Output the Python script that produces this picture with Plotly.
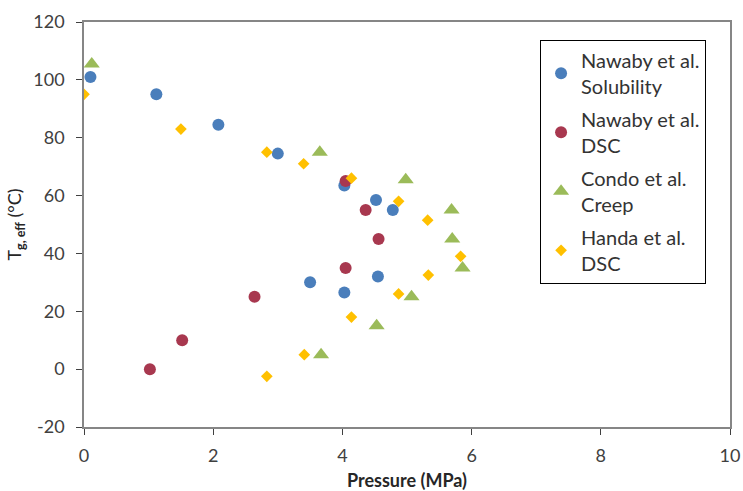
import plotly.graph_objects as go

sol_x = [0.1, 1.12, 2.08, 3.0, 4.03, 4.52, 4.78, 3.5, 4.03, 4.55]
sol_y = [101, 95, 84.5, 74.5, 63.5, 58.5, 55, 30, 26.5, 32]

ndsc_x = [1.02, 1.52, 2.64, 4.05, 4.05, 4.36, 4.56]
ndsc_y = [0, 10, 25, 35, 65, 55, 45]

creep_x = [0.12, 3.65, 4.98, 5.69, 5.7, 5.86, 5.07, 4.53, 3.67]
creep_y = [105.5, 75, 65.5, 55, 45, 35, 25, 15, 5]

handa_x = [0.0, 1.5, 2.83, 3.4, 4.14, 4.87, 5.32, 5.83, 5.33, 4.87, 4.14, 3.41, 2.83]
handa_y = [95, 83, 75, 71, 66, 58, 51.5, 39, 32.5, 26, 18, 5, -2.5]

x_ticks = [0, 2, 4, 6, 8, 10]
y_ticks = [-20, 0, 20, 40, 60, 80, 100, 120]
y_ticktext = ["-20", "0", "20", "40", "60", "80", "100", "120"]

names = ["Nawaby et al.<br>Solubility", "Nawaby et al.<br>DSC",
         "Condo et al.<br>Creep", "Handa et al.<br>DSC"]

FONT = "Lato, Noto Sans, sans-serif"

fig = go.Figure()
fig.add_trace(go.Scatter(x=sol_x, y=sol_y, mode="markers", name=names[0], legendgroup="g1",
                         marker=dict(symbol="circle", size=12, color="#4A7EBB")))
fig.add_trace(go.Scatter(x=ndsc_x, y=ndsc_y, mode="markers", name=names[1], legendgroup="g2",
                         marker=dict(symbol="circle", size=12, color="#A8384F")))
fig.add_trace(go.Scatter(x=creep_x, y=creep_y, mode="markers", name=names[2], legendgroup="g3",
                         marker=dict(symbol="triangle-up", size=14, color="#9BBB59")))
fig.add_trace(go.Scatter(x=handa_x, y=handa_y, mode="markers", name=names[3], legendgroup="g4",
                         marker=dict(symbol="diamond", size=9, color="#FFC000")))

fig.update_layout(
    width=743, height=491,
    margin=dict(l=84, r=13, t=22, b=64, autoexpand=False),
    paper_bgcolor="white", plot_bgcolor="white",
    font=dict(family=FONT, size=17, color="#404040"),
    showlegend=True,
    legend=dict(x=0.706, y=0.956, xanchor="left", yanchor="top",
                bordercolor="black", borderwidth=1, bgcolor="white",
                font=dict(family=FONT, size=20, color="#333333"),
                tracegroupgap=4, itemwidth=30),
    xaxis=dict(range=[0, 10], tickvals=x_ticks, showgrid=False, zeroline=False,
               automargin=False,
               showline=True, linecolor="#868686", linewidth=1.5, mirror=True,
               ticks="outside", ticklen=6, tickcolor="#404040",
               ticklabelstandoff=6,
               tickfont=dict(family=FONT, size=18, color="#404040"),
               title=dict(text="<b>Pressure (MPa)</b>", font=dict(family=FONT, size=18, color="#262626"),
                          standoff=12)),
    yaxis=dict(range=[-20, 120], tickvals=y_ticks, ticktext=y_ticktext,
               showgrid=False, zeroline=False, automargin=False,
               showline=True, linecolor="#868686", linewidth=1.5, mirror=True,
               ticks="outside", ticklen=6, tickcolor="#404040",
               ticklabelstandoff=8,
               tickfont=dict(family=FONT, size=18, color="#404040"),
               title=dict(text="T<sub><b>g, eff</b></sub> (°C)", font=dict(family=FONT, size=18, color="#262626"),
                          standoff=7)),
)

fig.write_html("out.html", config={"displayModeBar": False},
               post_script="document.body.style.margin='0';document.body.style.overflow='hidden';")
